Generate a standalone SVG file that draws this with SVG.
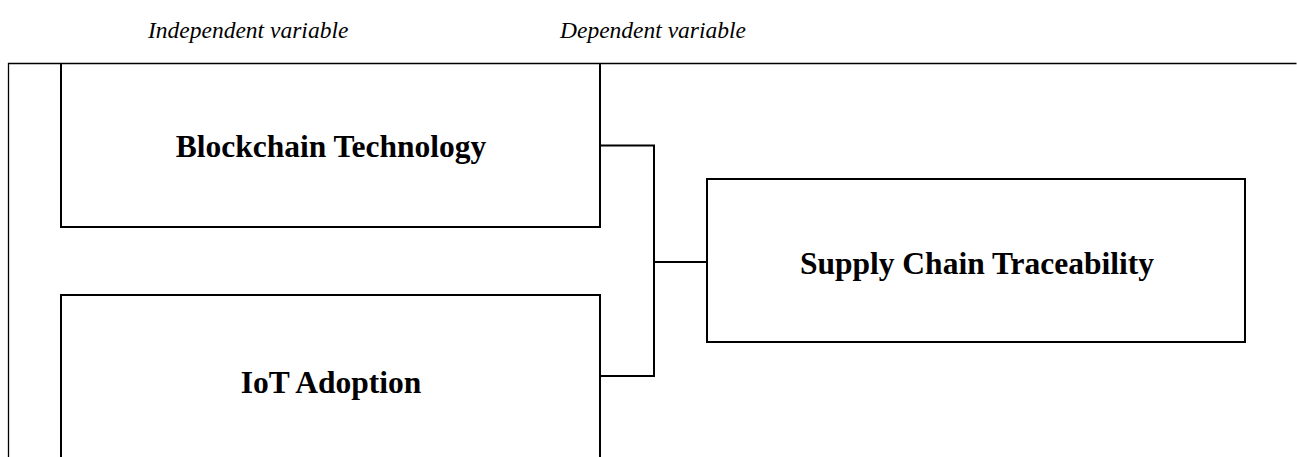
<svg xmlns="http://www.w3.org/2000/svg" width="1297" height="457" viewBox="0 0 1297 457">
<style>
.bg{fill:#ffffff}
.frame{fill:none;stroke:#000;stroke-width:1.3}
.box{fill:none;stroke:#000;stroke-width:2}
.conn{fill:none;stroke:#000;stroke-width:2}
.hdr{font-family:"Liberation Serif","Times New Roman",serif;font-style:italic;font-size:23.5px;fill:#000}
.lbl{font-family:"Liberation Serif","Times New Roman",serif;font-weight:bold;font-size:31.5px;fill:#000;text-anchor:middle}
</style>
<rect class="bg" x="0" y="0" width="1297" height="457"/>
<g id="frame">
<path class="frame" d="M8.5,457 V63.5 H1296.5"/>
</g>
<g id="headers">
<text class="hdr" x="148" y="38">Independent variable</text>
<text class="hdr" x="560" y="38">Dependent variable</text>
</g>
<g id="node-blockchain">
<path class="box" d="M61,63 V227 H600 V63"/>
<text class="lbl" x="331" y="157">Blockchain Technology</text>
</g>
<g id="node-iot">
<path class="box" d="M61,457 V295 H600 V457"/>
<text class="lbl" x="331" y="393">IoT Adoption</text>
</g>
<g id="node-supply">
<rect class="box" x="707" y="179" width="538" height="163"/>
<text class="lbl" x="977" y="274">Supply Chain Traceability</text>
</g>
<g id="connectors">
<path class="conn" d="M600,145.5 H654 V376 H600"/>
<path class="conn" d="M654,262 H707"/>
</g>
</svg>
